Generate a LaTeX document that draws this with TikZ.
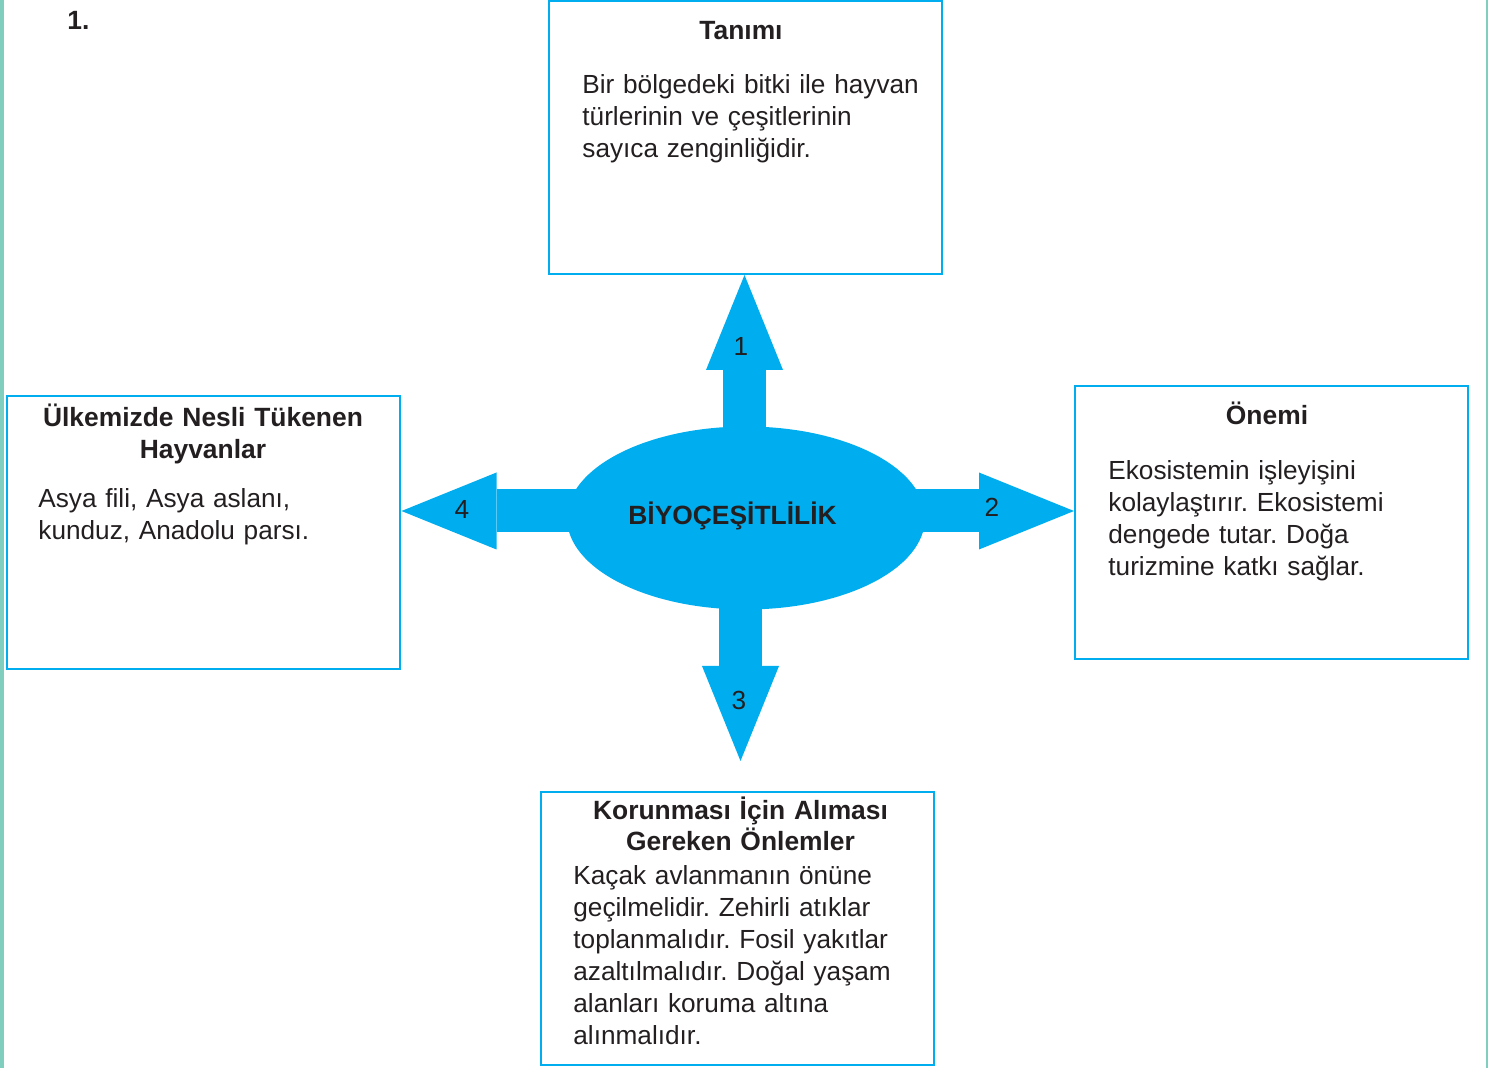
\documentclass[tikz,border=0pt]{standalone}
\usepackage{fontspec}
\setmainfont{Liberation Sans}
\frenchspacing
\usetikzlibrary{arrows.meta,backgrounds,positioning,shapes.geometric}
\definecolor{cyanb}{HTML}{00AEEF}
\definecolor{tealb}{HTML}{80CEBE}
\definecolor{textg}{HTML}{231F20}

\begin{document}
\begin{tikzpicture}[x=0.5pt,y=-0.5pt,
	box/.style={draw=cyanb,line width=1pt,minimum width=196.5pt,minimum height=136.5pt,inner sep=0pt},
	head/.style={font=\fontsize{13.2}{16}\selectfont\bfseries,text=textg,text width=200pt,align=center,anchor=base,inner sep=0pt},
	body/.style={font=\fontsize{13.1}{16}\selectfont,text=textg,text width=190pt,align=left,anchor=base west,inner sep=0pt},
	num/.style={font=\fontsize{13.1}{16}\selectfont,text=textg,inner sep=0pt},
	blk/.style={cyanb,line width=21.5pt,-{Triangle[width=38.5pt,length=47.5pt,line width=0pt]}}]
			\useasboundingbox (0,0) rectangle (1488,1068);
			\fill[tealb] (0,0) rectangle (3.5,1068);
			\fill[tealb] (1486,0) rectangle (1488,1068);
			\node[font=\fontsize{13.2}{16}\selectfont\bfseries,text=textg,anchor=base west,inner sep=0pt] (soru) at (67,30) {1.};
			\node[box] (tanim) at (745.5,137.5) {};
			\node[box] (ulke) at (203,532.5) {};
			\node[box] (onem) at (1271.5,523) {};
			\node[box] (korun) at (737.5,928) {};
			\node[ellipse,fill=cyanb,minimum width=179pt,minimum height=91.5pt,inner sep=0pt] (biyo) at (746,518) {};
			\node[font=\fontsize{13.2}{16}\selectfont\bfseries,text=textg,anchor=base,inner sep=0pt] (biyoT) at (732.5,525) {BİYOÇEŞİTLİLİK};
			\coordinate (p1) at (744.5,275);
			\coordinate (p2) at (1074,511);
			\coordinate (p3) at (740.5,761);
			\coordinate (p4) at (401.5,511);
			\begin{scope}[on background layer]
			\draw[blk] (biyo.center -| p1) -- (p1);
			\draw[blk] (biyo.center |- p2) -- (p2);
			\draw[blk] (biyo.center -| p3) -- (p3);
			\draw[blk] (biyo.center |- p4) -- (p4);
			\end{scope}
			\node[num] (n1) at (741,346) {1};
			\node[num] (n2) at (992,507) {2};
			\node[num] (n3) at (739,700) {3};
			\node[num] (n4) at (462,509) {4};
			\node[head] (tanimH) at (741,40) {Tanımı};
			\node[head] (ulkeH) at (203,427) {Ülkemizde Nesli Tükenen\\Hayvanlar};
			\node[head] (onemH) at (1267,425) {Önemi};
			\node[head] (korunH) at (740.5,819) {Korunması İçin Alıması\\Gereken Önlemler};
			\node[body] (tanimB) at (582,94) {Bir bölgedeki bitki ile hayvan\\türlerinin ve çeşitlerinin\\sayıca zenginliğidir.};
			\node[body] (ulkeB) at (38,508) {Asya fili, Asya aslanı,\\kunduz, Anadolu parsı.};
			\node[body] (onemB) at (1108,480) {Ekosistemin işleyişini\\kolaylaştırır. Ekosistemi\\dengede tutar. Doğa\\turizmine katkı sağlar.};
			\node[body] (korunB) at (573,884) {Kaçak avlanmanın önüne\\geçilmelidir. Zehirli atıklar\\toplanmalıdır. Fosil yakıtlar\\azaltılmalıdır. Doğal yaşam\\alanları koruma altına\\alınmalıdır.};
			\end{tikzpicture}
\end{document}
